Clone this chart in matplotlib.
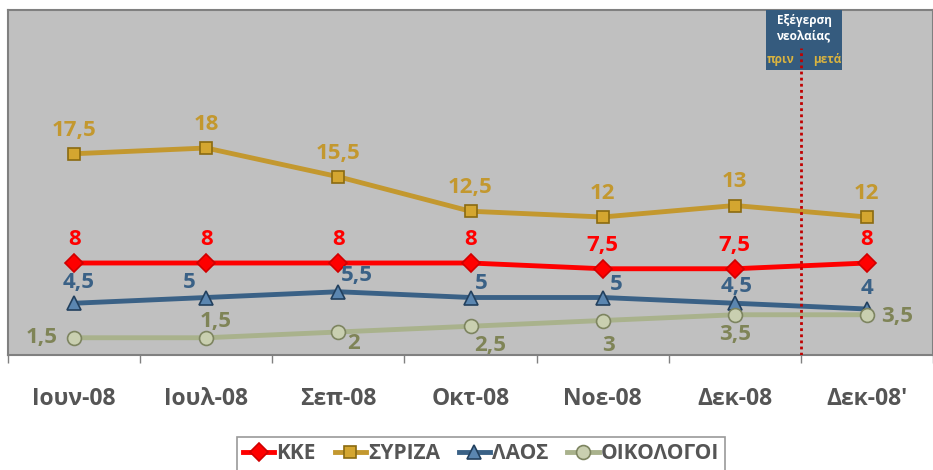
import matplotlib
matplotlib.use("Agg")
import matplotlib.pyplot as plt
from matplotlib.lines import Line2D

plt.rcParams['font.family'] = ['Open Sans', 'DejaVu Sans']

categories = ["Ιουν-08", "Ιουλ-08", "Σεπ-08", "Οκτ-08", "Νοε-08", "Δεκ-08", "Δεκ-08'"]
kke = [8, 8, 8, 8, 7.5, 7.5, 8]
syriza = [17.5, 18, 15.5, 12.5, 12, 13, 12]
laos = [4.5, 5, 5.5, 5, 5, 4.5, 4]
oikologoi = [1.5, 1.5, 2, 2.5, 3, 3.5, 3.5]
series_names = ["ΚΚΕ", "ΣΥΡΙΖΑ", "ΛΑΟΣ", "ΟΙΚΟΛΟΓΟΙ"]

W, H = 933, 470
fig = plt.figure(figsize=(W / 100, H / 100), dpi=100)
fig.patch.set_facecolor("white")
ax = fig.add_axes([8 / W, (H - 355) / H, (933 - 8) / W, (355 - 10) / H])
ax.set_facecolor("#c0c0c0")
ax.set_xlim(-0.5, 6.45)
ax.set_ylim(0, 30)

x = list(range(len(categories)))

styles = [
    (kke, "#ff0000", "D", "#d00000", 9),
    (syriza, "#c3982f", "s", "#8a6a10", 9),
    (laos, "#3a6186", "^", "#22405e", 10),
    (oikologoi, "#a9b28c", "o", "#7d8460", 10),
]
marker_faces = ["#ff0000", "#d4a630", "#5b86b0", "#c9cfb0"]
handles = []
for (vals, col, mk, ec, ms), mf in zip(styles, marker_faces):
    ax.plot(x, vals, color=col, lw=3.5, marker=mk, markersize=ms,
            markerfacecolor=mf, markeredgecolor=ec, markeredgewidth=1.2, zorder=3)
    handles.append(Line2D([], [], color=col, lw=3.5, marker=mk, markersize=ms,
                          markerfacecolor=mf, markeredgecolor=ec, markeredgewidth=1.2))

def fmt(v):
    return f"{v:g}".replace(".", ",")

fs = 16
for vals, col in [(kke, "#ff0000"), (syriza, "#c3982f")]:
    for i, v in enumerate(vals):
        ax.annotate(fmt(v), (i, v), xytext=(0, 17), textcoords="offset points",
                    ha="center", va="center", fontsize=fs, fontweight="bold", color=col)

laos_off = [(3, 15), (-12, 11), (13, 12), (8, 10), (10, 9), (1, 12), (0, 15)]
for i, v in enumerate(laos):
    dx, dy = laos_off[i]
    ax.annotate(fmt(v), (i, v), xytext=(dx, dy), textcoords="offset points",
                ha="center", va="center", fontsize=fs, fontweight="bold", color="#3a6186")

oik_off = [(-23, 0), (7, 12), (11, -8), (14, -14), (4, -18), (0, -14), (22, -1)]
for i, v in enumerate(oikologoi):
    dx, dy = oik_off[i]
    ax.annotate(fmt(v), (i, v), xytext=(dx, dy), textcoords="offset points",
                ha="center", va="center", fontsize=fs, fontweight="bold", color="#7f8457")

# annotation box
box_x0 = (766 - 8) / (933 - 8)
box_w = (842 - 766) / (933 - 8)
ax.add_patch(plt.Rectangle((box_x0, (355 - 70) / 345), box_w, 60 / 345,
                           transform=ax.transAxes, facecolor="#355b7e",
                           edgecolor="none", zorder=5, clip_on=False))
ax.text(box_x0 + box_w / 2, (355 - 28) / 345, "Εξέγερση\nνεολαίας", transform=ax.transAxes,
        ha="center", va="center", color="white", fontsize=8.5, fontweight="bold",
        linespacing=1.25, zorder=6)
ax.text((781 - 8) / 925, (355 - 60) / 345, "πριν", transform=ax.transAxes,
        ha="center", va="center", color="#d9b340", fontsize=8.5, fontweight="bold", zorder=6)
ax.text((827 - 8) / 925, (355 - 60) / 345, "μετά", transform=ax.transAxes,
        ha="center", va="center", color="#d9b340", fontsize=8.5, fontweight="bold", zorder=6)
# dotted event line (starts inside the box)
ax.plot([5.5, 5.5], [0, 30 * (355 - 48) / 345], color="#c00000", lw=2,
        ls=(0, (1, 1.2)), zorder=7)

ax.set_yticks([])
ax.set_xticks(x)
ax.set_xticklabels(categories, fontsize=16.5, fontweight="bold", color="#555555")
ax.set_xticks([i + 0.5 for i in range(-1, 7)], minor=True)
ax.tick_params(axis="x", which="major", length=0, pad=23)
ax.tick_params(axis="x", which="minor", length=6, color="#808080", width=1)
for side in ["left", "top", "right", "bottom"]:
    ax.spines[side].set_color("#808080")
    ax.spines[side].set_linewidth(1.5)

leg = fig.legend(handles, series_names, loc="upper center",
                 bbox_to_anchor=(481 / W, (H - 437) / H), ncol=4, frameon=True,
                 prop={"size": 15, "weight": "bold"}, handlelength=1.5,
                 handletextpad=0.1, columnspacing=0.9, borderpad=0.3,
                 borderaxespad=0, fancybox=False)
leg.get_frame().set_edgecolor("#808080")
leg.get_frame().set_linewidth(1.2)
for t in leg.get_texts():
    t.set_color("#555555")

fig.savefig("out.png", dpi=100)
